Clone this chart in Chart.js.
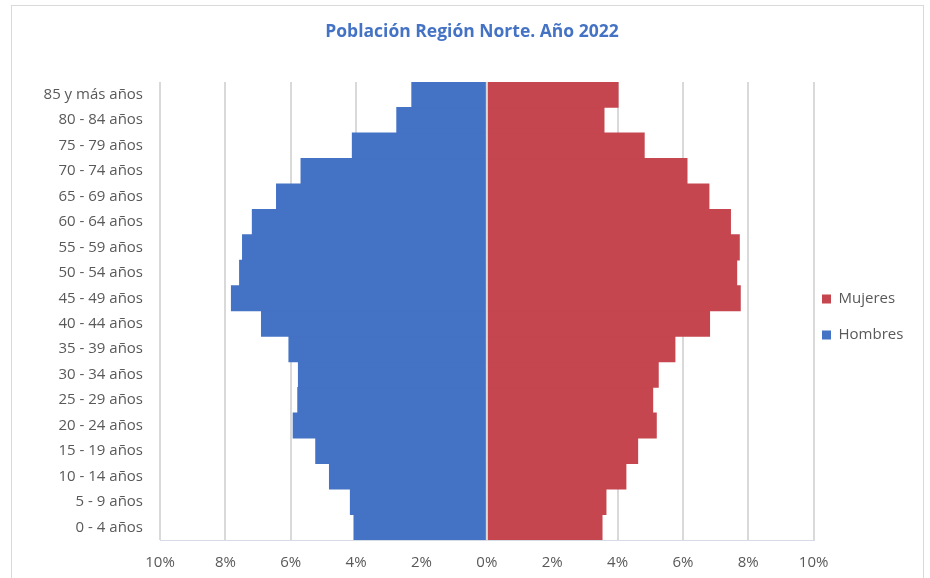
<!DOCTYPE html>
<html>
<head>
<meta charset="utf-8">
<script src="https://cdn.jsdelivr.net/npm/chart.js@4"></script>
<style>
  body { margin: 0; background: #fff; }
  #wrap { position: relative; width: 930px; height: 578px; }
  #frame { position: absolute; left: 11px; top: 5px; width: 913px; height: 600px; border: 1px solid #d9d9d9; box-sizing: border-box; }
  canvas { position: absolute; left: 0; top: 0; }
</style>
</head>
<body>
<div id="wrap">
  <div id="frame"></div>
  <canvas id="myChart" width="930" height="578"></canvas>
</div>
<script>
const categories = ['0 - 4 años', '5 - 9 años', '10 - 14 años', '15 - 19 años', '20 - 24 años', '25 - 29 años',
    '30 - 34 años', '35 - 39 años', '40 - 44 años', '45 - 49 años', '50 - 54 años', '55 - 59 años',
    '60 - 64 años', '65 - 69 años', '70 - 74 años', '75 - 79 años', '80 - 84 años', '85 y más años'];
// porcentaje sobre el total
const hombres = [4.07, 4.18, 4.82, 5.24, 5.93, 5.79, 5.77, 6.06, 6.90, 7.82, 7.57, 7.48, 7.18, 6.44, 5.69, 4.12, 2.76, 2.30];
const mujeres = [3.53, 3.65, 4.26, 4.62, 5.19, 5.08, 5.25, 5.76, 6.82, 7.76, 7.65, 7.73, 7.46, 6.80, 6.13, 4.82, 3.59, 4.02];
const xTickLabels = ['10%', '8%', '6%', '4%', '2%', '0%', '2%', '4%', '6%', '8%', '10%'];

const gridColor = '#d9d9d9';
const textColor = '#595959';

// linea del 0 por encima de las barras
const zeroLine = {
    id: 'zeroLine',
    afterDatasetsDraw(chart) {
        const x = chart.scales.x.getPixelForValue(0);
        const {top, bottom} = chart.chartArea;
        const ctx = chart.ctx;
        ctx.save();
        ctx.strokeStyle = gridColor;
        ctx.lineWidth = 2;
        ctx.beginPath();
        ctx.moveTo(x, top);
        ctx.lineTo(x, bottom);
        ctx.stroke();
        ctx.restore();
    }
};

// mover la leyenda un poco como en excel
const legendShift = {
    id: 'legendShift',
    afterLayout(chart) {
        const lg = chart.legend;
        const dx = 801 - lg.left;
        lg.left += dx;
        lg.right += dx;
        lg.top += 28;
        lg.bottom += 28;
    }
};

const ctx = document.getElementById('myChart');
const chart = new Chart(ctx, {
    type: 'bar',
    data: {
        labels: categories,
        datasets: [{
            label: 'Mujeres',
            data: mujeres,
            backgroundColor: '#c5464f',
            borderWidth: 0,
            barPercentage: 1,
            categoryPercentage: 1
        }, {
            label: 'Hombres',
            data: hombres.map(v => -v),
            backgroundColor: '#4472c4',
            borderWidth: 0,
            barPercentage: 1,
            categoryPercentage: 1
        }]
    },
    options: {
        indexAxis: 'y',
        responsive: false,
        animation: false,
        layout: {padding: {left: 18, right: 4, top: 0, bottom: 0}},
        plugins: {
            title: {
                display: true,
                text: 'Población Región Norte. Año 2022',
                color: '#4472c4',
                font: {family: 'Open Sans', size: 17.5, weight: 'bold', lineHeight: 1.2},
                padding: {top: 22, bottom: 39}
            },
            legend: {
                position: 'right',
                maxWidth: 116,
                labels: {
                    boxWidth: 9,
                    boxHeight: 9,
                    padding: 21,
                    color: textColor,
                    font: {family: 'Open Sans', size: 15}
                }
            },
            tooltip: {enabled: false}
        },
        scales: {
            x: {
                stacked: true,
                min: -10,
                max: 10,
                ticks: {
                    stepSize: 2,
                    padding: 14,
                    color: textColor,
                    font: {family: 'Open Sans', size: 15},
                    callback: (v, i) => xTickLabels[i]
                },
                grid: {color: gridColor, lineWidth: 2, drawTicks: false},
                border: {display: true, color: '#d6dce5', width: 1},
                afterFit: s => { s.height = 38; }
            },
            y: {
                stacked: true,
                reverse: true,
                ticks: {
                    padding: 17,
                    color: textColor,
                    font: {family: 'Open Sans', size: 15}
                },
                grid: {display: false, drawTicks: false},
                border: {display: false},
                afterFit: s => { s.width = 142; }
            }
        }
    },
    plugins: [zeroLine, legendShift]
});
</script>
</body>
</html>
